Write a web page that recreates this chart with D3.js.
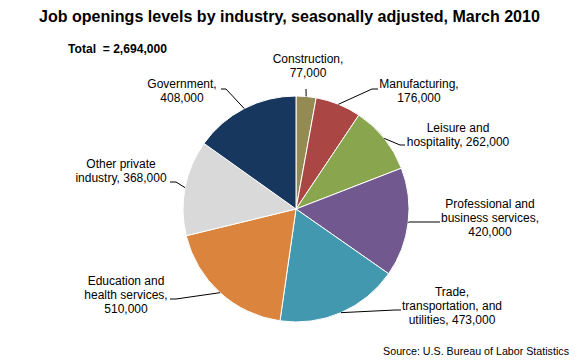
<!DOCTYPE html>
<html>
<head>
<meta charset="utf-8">
<script src="https://cdn.jsdelivr.net/npm/d3@7"></script>
<style>
  html, body { margin: 0; padding: 0; background: #fff; }
  svg { display: block; font-family: "Liberation Sans", Arial, sans-serif; }
</style>
</head>
<body>
<svg id="chart" width="580" height="360"></svg>
<script>
// ---- Data ----
const categories = ["Construction", "Manufacturing", "Leisure and hospitality",
  "Professional and business services", "Trade, transportation, and utilities",
  "Education and health services", "Other private industry", "Government"];
const values = [77000, 176000, 262000, 420000, 473000, 510000, 368000, 408000];
const labelLines = [
  ["Construction,", "77,000"],
  ["Manufacturing,", "176,000"],
  ["Leisure and", "hospitality, 262,000"],
  ["Professional and", "business services,", "420,000"],
  ["Trade,", "transportation, and", "utilities, 473,000"],
  ["Education and", "health services,", "510,000"],
  ["Other private", "industry, 368,000"],
  ["Government,", "408,000"]
];
const colors = ["#948A54", "#AA4643", "#89A54E", "#71588F", "#4198AF", "#DB843D", "#D9D9D9", "#17375E"];
const titleText = "Job openings levels by industry, seasonally adjusted, March 2010";
const totalText = "Total  = 2,694,000";
const sourceText = "Source: U.S. Bureau of Labor Statistics";

// ---- Layout (label placement) ----
const cx = 296, cy = 209, R = 113;
const labelLayout = [
  { tx: 308, ty: 63,  elbow: [306, 89],  end: null },
  { tx: 419, ty: 88,  elbow: [372, 89],  end: 378 },
  { tx: 458, ty: 132, elbow: [400, 145], end: 405 },
  { tx: 490, ty: 208, elbow: [409, 222], end: 440 },
  { tx: 452, ty: 296, elbow: [395, 310], end: 401 },
  { tx: 126, ty: 285, elbow: [176, 299], end: 170 },
  { tx: 121, ty: 168, elbow: [176, 182], end: 170 },
  { tx: 182, ty: 88,  elbow: [226, 89],  end: 221 }
];
const lineH = 13.8;

const svg = d3.select("#chart");

function fitWidth(sel, target, base) {
  const w = sel.node().getComputedTextLength();
  if (w > 0) sel.attr("font-size", base * target / w);
}

const title = svg.append("text")
  .attr("x", 39).attr("y", 22)
  .attr("font-size", 16).attr("font-weight", "bold")
  .attr("fill", "#000")
  .text(titleText);
fitWidth(title, 501, 16);

const total = svg.append("text")
  .attr("x", 68).attr("y", 53)
  .attr("font-size", 12).attr("font-weight", "bold")
  .attr("fill", "#000")
  .style("white-space", "pre")
  .text(totalText);
fitWidth(total, 99, 12);

const pie = d3.pie().sort(null).value(d => d)
  .startAngle(0).endAngle(2 * Math.PI);
const arcs = pie(values);
const arc = d3.arc().innerRadius(0).outerRadius(R);

const g = svg.append("g").attr("transform", `translate(${cx},${cy})`);
g.selectAll("path.slice")
  .data(arcs)
  .join("path")
  .attr("class", "slice")
  .attr("d", arc)
  .attr("fill", (d, i) => colors[i])
  .attr("stroke", "#fff")
  .attr("stroke-width", 1);

// Leader lines
arcs.forEach((d, i) => {
  const mid = (d.startAngle + d.endAngle) / 2;
  const px = cx + R * Math.sin(mid);
  const py = cy - R * Math.cos(mid);
  const L = labelLayout[i];
  const pts = [[px, py], L.elbow];
  if (L.end !== null) pts.push([L.end, L.elbow[1]]);
  svg.append("path")
    .attr("d", d3.line()(pts))
    .attr("fill", "none")
    .attr("stroke", "#000")
    .attr("stroke-width", 1);
});

// Labels
labelLines.forEach((lines, i) => {
  const L = labelLayout[i];
  const t = svg.append("text")
    .attr("text-anchor", "middle")
    .attr("font-size", 12)
    .attr("fill", "#000");
  lines.forEach((s, j) => {
    t.append("tspan").attr("x", L.tx).attr("y", L.ty + j * lineH).text(s);
  });
});

const src = svg.append("text")
  .attr("x", 569).attr("y", 355)
  .attr("text-anchor", "end")
  .attr("font-size", 11)
  .attr("fill", "#000")
  .text(sourceText);
fitWidth(src, 186, 11);
</script>
</body>
</html>
